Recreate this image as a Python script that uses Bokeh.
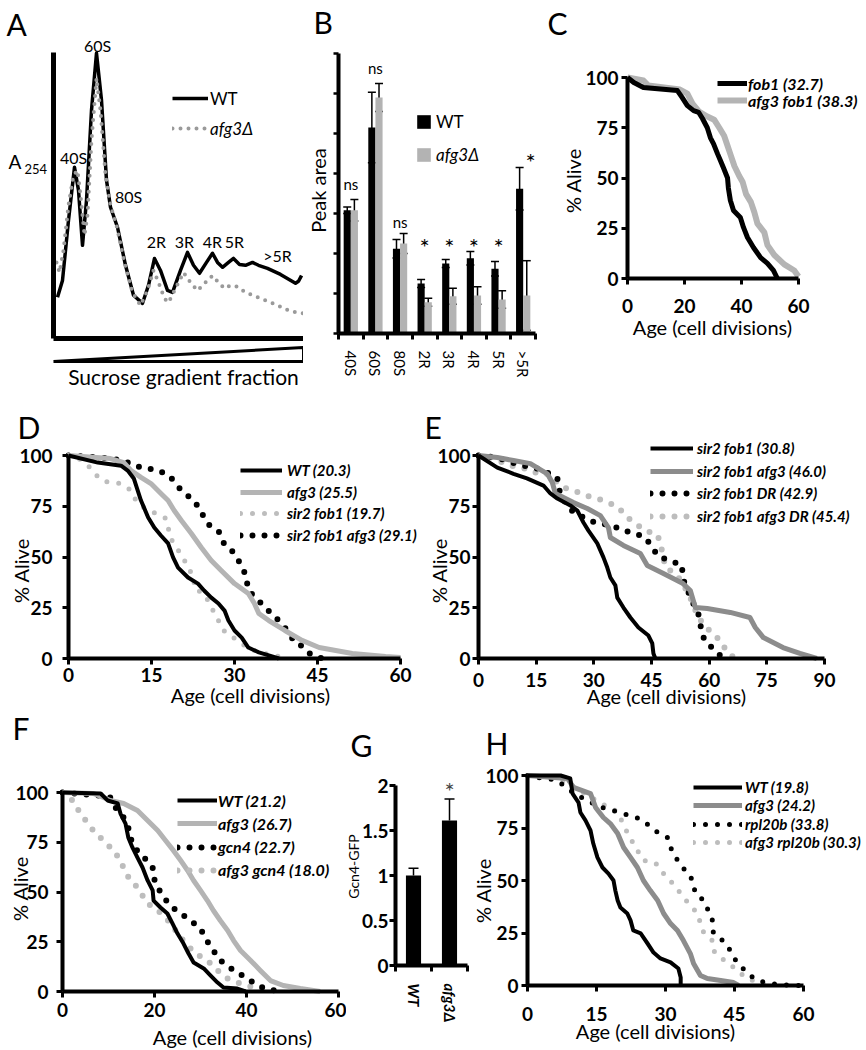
import math
from bokeh.plotting import figure
from bokeh.models import (Range1d, Legend, LegendItem, Label, LabelSet, Whisker, TeeHead,
                          ColumnDataSource, FixedTicker, NumeralTickFormatter)
from bokeh.core.properties import value, field
from bokeh.layouts import row, column
from bokeh.embed import file_html
from bokeh.resources import INLINE

FONT = "Lato"
BLACK = "#000000"
LGRAY = "#b4b4b4"
DGRAY = "#8c8c8c"
DOTGRAY = "#bdbdbd"

# ---------------- A: polysome profile ----------------
a_wt_x = [1.6, 3.6, 6.0, 8.4, 10.0, 11.6, 13.2, 15.2, 17.2, 19.2, 21.2, 22.8, 25.6, 28.8, 32.0, 35.6,
          38.0, 40.4, 42.8, 45.6, 47.6, 50.8, 53.6, 56.0, 58.4, 61.2, 63.6, 65.6, 67.6, 70.0, 72.0,
          74.4, 76.8, 79.6, 82.0, 85.6, 90.8, 96.8, 98.0, 99.2]
a_wt_y = [14.4, 20.3, 41.3, 59.9, 51.8, 32.6, 48.3, 79.8, 99.8, 83.3, 55.3, 45.9, 38.9, 25.6, 15.1, 12.3,
          18.6, 28.0, 23.8, 16.8, 16.1, 23.8, 30.1, 25.6, 22.8, 26.6, 29.8, 26.6, 24.9, 26.6, 28.0,
          25.9, 25.6, 26.6, 25.6, 24.5, 22.4, 19.3, 20.0, 22.0]
a_afg_x = [1.2, 2.4, 4.0, 6.0, 8.0, 9.6, 10.8, 12.4, 13.6, 15.2, 17.2, 18.8, 20.8, 22.8, 25.2, 28.4,
           31.6, 34.8, 37.6, 40.0, 42.0, 44.4, 46.0, 48.8, 52.0, 54.8, 57.6, 60.4, 63.6, 66.0, 68.4,
           70.8, 73.2, 76.8, 82.8, 88.8, 94.8, 100.0]
a_afg_y = [26.6, 23.1, 30.8, 46.6, 57.1, 58.8, 50.1, 36.1, 43.1, 69.3, 91.0, 79.8, 57.1, 46.6, 39.6, 26.6,
           16.1, 11.6, 16.8, 23.8, 19.6, 14.0, 12.6, 17.5, 23.1, 19.6, 16.8, 19.3, 22.0, 19.6, 17.5,
           18.6, 18.2, 16.1, 14.0, 11.9, 9.5, 8.8]
a_peaks = ["40S", "60S", "80S", "2R", "3R", "4R", "5R", ">5R"]
a_peak_x = [8.0, 17.6, 30.0, 41.2, 52.4, 63.6, 72.4, 89.6]
a_peak_y = [63.3, 102.4, 49.7, 33.9, 33.9, 33.9, 33.9, 29.0]

# ---------------- B: peak areas ----------------
b_categories = ["40S", "60S", "80S", "2R", "3R", "4R", "5R", ">5R"]
b_wt = [3.08, 5.15, 2.12, 1.25, 1.75, 1.88, 1.62, 3.62]
b_wt_err = [0.08, 0.88, 0.23, 0.10, 0.10, 0.17, 0.18, 0.53]
b_afg = [3.08, 5.90, 2.25, 0.78, 0.93, 0.95, 0.85, 0.95]
b_afg_err = [0.27, 0.35, 0.25, 0.10, 0.20, 0.22, 0.22, 0.87]
b_sig = ["ns", "ns", "ns", "*", "*", "*", "*", "*"]
b_sig_y = [3.58, 6.50, 2.65, 1.95, 1.95, 1.95, 1.95, 4.07]

# ---------------- C ----------------
c_fob1_x = [0, 2.2, 5.6, 17.5, 19.2, 21, 23.2, 25, 26.3, 28, 29.1, 30.2, 31.6, 32.6, 33.7, 35.1, 35.4,
            36.1, 37.2, 39.6, 40.7, 42.1, 44.2, 46.7, 49.1, 51.2, 52.6]
c_fob1_y = [100, 97.5, 95, 93.5, 90, 86, 83.5, 82.6, 79.6, 75, 70, 67, 62, 58.7, 55, 50, 45, 38.8, 33.8,
            30.3, 25.4, 20.4, 15.4, 10.4, 7.5, 4, 0]
c_afg_x = [0, 5.6, 7.3, 18.4, 21, 22.8, 25.1, 28, 30.4, 32.2, 33.9, 35.1, 36.3, 37.5, 39.2, 40.4, 41.6,
           43.3, 44.5, 45.6, 48, 49.1, 51.5, 55, 58.5, 60]
c_afg_y = [100, 98.5, 96, 94, 92, 87, 83, 80.6, 79, 75, 71, 66, 61, 56, 51, 48, 42, 38, 33, 27.3, 23,
           16.6, 11.7, 7, 4, 1]

# ---------------- D ----------------
d_wt_x = [0, 5.3, 9.5, 10.7, 11.8, 12.5, 13.1, 14.4, 15.5, 16.7, 18, 18.9, 19.8, 21.6, 23.4, 24.5, 25.8,
          27.1, 28.2, 28.9, 30, 31.3, 32.5, 34.4, 36.2, 38]
d_wt_y = [100, 96.5, 95, 92.6, 88.7, 82.8, 77.8, 69.5, 64.5, 60.6, 56.7, 49.8, 44.8, 39.9, 36.9, 33.5,
          30, 27.1, 23.6, 18.7, 13.8, 10.3, 5.4, 3, 1.5, 0]
d_afg_x = [0, 7.6, 10, 11.3, 13.1, 14.9, 16.7, 18, 19.1, 20.4, 22.2, 24, 25.8, 27.6, 30, 32.5, 33.6,
           34.4, 36.2, 39.1, 42.2, 45.3, 51.3, 57.3, 60]
d_afg_y = [100, 98.5, 96.5, 92.6, 89.2, 86.2, 81.3, 77.8, 72.9, 68, 61.6, 54.7, 48.3, 43.3, 36.9, 32,
           27.1, 22.2, 18.7, 13.8, 8.9, 5.4, 2.5, 1, 0.5]
d_sf_x = [0, 1.6, 3.1, 4.5, 5.5, 7.3, 9.5, 11.3, 12.2, 13.6, 15.8, 17.6, 18.5, 19.5, 20.7, 21.6, 22.7,
          22.7, 24.5, 25.5, 26.4, 27.3, 28, 30, 31.8, 33.6, 35.5, 37.3, 39.5]
d_sf_y = [100, 99, 96, 92.6, 88.7, 86.7, 86.2, 82.8, 77.8, 74.4, 71.4, 69, 59, 54.7, 49.8, 44.8, 39.9,
          34.5, 32, 27.1, 22.2, 17.7, 13.8, 9.9, 6.4, 3.9, 2.5, 1.5, 0]
d_sfa_x = [0, 5.8, 10, 11.8, 16.2, 18.2, 20.4, 22.2, 23.6, 24.5, 25.5, 27.3, 28, 29.5, 30.7, 31.6, 32.2,
           32.5, 34, 35.5, 37.1, 38.5, 39.8, 40.9, 42.7, 43.6, 45.8]
d_sfa_y = [100, 99, 97.5, 95, 92.6, 90.1, 82.8, 78.8, 74.4, 69.5, 65.5, 62.1, 57.1, 53.2, 48.3, 44.3,
           38.4, 33.5, 29.6, 25.1, 21.2, 17.2, 12.8, 7.9, 5.4, 2.5, 0]

# ---------------- E ----------------
e_sf_x = [0, 4.9, 9.1, 12.6, 16.9, 18.7, 20.5, 23.9, 25.7, 27.3, 28.6, 30.9, 32.5, 33.5, 34.3, 35.6,
          36.1, 37.7, 39.5, 41.6, 44.2, 45.2, 45.5, 46]
e_sf_y = [100, 94, 91, 88.7, 85.2, 81.3, 78.8, 75.4, 72.9, 67, 63, 56.7, 49.8, 44.8, 39.9, 36, 30,
          25.1, 20.2, 15.3, 11.3, 7.4, 2.5, 0]
e_sfa_x = [0, 4.9, 9.1, 13.5, 17.9, 19.2, 20, 24.7, 28.3, 31.7, 33.8, 34.3, 37.7, 42.1, 43.9, 48.1,
           53.2, 55.1, 56.4, 59.5, 65.5, 70.6, 72, 74.1, 79.2, 83.6, 88]
e_sfa_y = [100, 99, 97.5, 96, 91, 86.7, 81.3, 76.8, 73.9, 70.4, 64.5, 59.6, 55.7, 51.7, 45.8, 41.9,
           36.9, 33.5, 25.1, 24.6, 22.7, 20.2, 15.3, 10.3, 5.4, 2.5, 0]
e_dr_x = [0, 2.6, 5.7, 8.8, 11.7, 15.3, 17.9, 20.5, 20.8, 22.1, 23.4, 28.6, 31.7, 34.8, 37.7, 40.8,
          43.4, 45.2, 46.8, 49.9, 53, 53, 54.3, 55.1, 56.9, 57.7, 57.9, 59.2, 61.6, 63.6]
e_dr_y = [100, 99.5, 98.5, 96.5, 95, 93.6, 91.6, 89.2, 83.7, 78.8, 73.9, 68, 66.5, 65.5, 63, 61.6,
          59.6, 54.7, 50.2, 48.3, 45.8, 39.9, 34.5, 29.6, 23.6, 18.7, 12.8, 7.9, 3.9, 0]
e_adr_x = [0, 3.1, 8.3, 11.4, 14.3, 17.4, 22.1, 24.7, 27.8, 30.9, 33.8, 36.4, 38.7, 40.8, 43.4, 46.5,
           47.3, 48.1, 48.6, 51.2, 53.2, 54.5, 55.8, 56.9, 58.4, 60.8, 62.9, 64.7, 66.8]
e_adr_y = [100, 99, 95, 94, 91.6, 91.6, 84.2, 82.8, 80.3, 78.8, 76.8, 74.4, 69.5, 66.5, 63, 61.1,
           56.7, 49.8, 44.8, 41.9, 36.9, 32, 27.1, 21.2, 17.2, 12.3, 8.9, 3, 0]

# ---------------- F ----------------
f_wt_x = [0, 8.3, 9.8, 12, 12.6, 13.7, 14.3, 15.2, 16.3, 17.4, 18.5, 19.6, 19.8, 21.3, 22.8, 23.9, 25,
          26.3, 27.4, 28.5, 30.7, 32.2, 33.7, 35, 38, 39.8]
f_wt_y = [100, 99.5, 96, 94.5, 89.4, 84.4, 77.4, 72.4, 67.3, 62.3, 55.8, 50.8, 45.7, 42.2, 39.2, 34.2,
          29.1, 24.1, 19.1, 14.6, 11.6, 8, 4.5, 2, 1.5, 0]
f_afg_x = [0, 6.7, 8.9, 10.4, 13.3, 16.3, 18.5, 20.7, 22.4, 24.1, 25.7, 27.2, 28.5, 30, 31.5, 32.8,
           34.3, 35.9, 37.2, 38.7, 40.9, 43, 45.2, 48, 51.7, 56]
f_afg_y = [100, 99.5, 97.5, 96, 94.5, 91, 85.9, 80.9, 75.9, 70.9, 65.8, 60.8, 55.8, 50.8, 45.7, 40.7,
           35.7, 30.7, 25.6, 20.6, 15.6, 10.6, 5.5, 3, 1.5, 0]
f_gcn_x = [0, 2.4, 5.4, 7.8, 10.4, 11.5, 13.3, 14.3, 14.8, 15.9, 17, 18.5, 19.6, 19.8, 20.7, 22, 23.9,
           25.7, 27.8, 30, 31.1, 32.8, 34.3, 37.2, 40.2, 42.4, 44.6, 48]
f_gcn_y = [100, 99.5, 99, 98.5, 97.5, 92.5, 87.4, 82.4, 76.9, 71.9, 68.3, 65.8, 62.3, 57.3, 52.3, 47.2,
           42.2, 39.2, 35.7, 31.7, 26.6, 20.6, 15.6, 10.6, 6.5, 3, 1, 0]
f_agcn_x = [0, 2.2, 3.9, 6.7, 9.3, 11.1, 12.6, 13.7, 14.8, 16.3, 17.4, 18.5, 20.2, 22.4, 24.1, 25.7,
            27.2, 28.9, 31.5, 33.7, 35.9, 38.7, 42.4, 44.6]
f_agcn_y = [100, 96, 89.4, 80.9, 74.9, 70.9, 65.8, 59.8, 55.8, 52.3, 48.2, 44.2, 41.7, 37.2, 32.2,
            27.1, 23.1, 19.1, 15.6, 10.6, 6.5, 4, 1.5, 0]

# ---------------- G ----------------
g_labels = ["WT", "afg3\u0394"]
g_vals = [1.00, 1.61]
g_err = [0.08, 0.24]

# ---------------- H ----------------
h_wt_x = [0, 7.2, 9.3, 9.8, 11.1, 11.5, 12.6, 13.7, 14.3, 15.2, 16.3, 17.6, 18.7, 19.1, 19.6, 20.2,
          21.7, 22.4, 23, 24.6, 26.1, 27.4, 28.9, 31.1, 32.8, 33.3, 33.3]
h_wt_y = [100, 100, 98.6, 91.4, 87.1, 82.4, 78.6, 73.8, 67.6, 61, 56.2, 53.3, 50, 45.2, 40.5, 37.1,
          34.3, 31, 26.2, 24.8, 20, 15.7, 12.9, 11, 8.1, 3.8, 0]
h_afg_x = [0, 8.7, 10, 13.7, 14.8, 16.5, 18, 19.6, 20.9, 22.4, 23.9, 25.2, 26.7, 28.3, 29.6, 31.1,
           32.6, 33.9, 35.4, 36.1, 37.6, 39.1, 42, 44.8, 45.9]
h_afg_y = [100, 98.6, 94.3, 91.4, 84.8, 80, 77.1, 72.4, 65.7, 61, 56.2, 50, 45.2, 40.5, 34.3, 29.5,
           26.2, 21.4, 15.2, 10.5, 4.8, 3.3, 2.4, 1.4, 0]
h_rpl_x = [0, 2.2, 4.3, 6.5, 8.7, 10.9, 13, 15.9, 17.6, 20.2, 22.8, 25, 28.3, 30.4, 31.1, 32.2, 33.7,
           35.4, 36.1, 36.5, 38.3, 39.3, 40.2, 40.4, 42, 43.7, 44.8, 46.3, 47.8, 50, 52.4, 55, 57.6, 60]
h_rpl_y = [100, 99, 98.6, 97.6, 93.8, 90.5, 88.1, 84.8, 84.3, 81.9, 81, 78.6, 72.9, 70.5, 65.7, 61,
           56.2, 52.4, 47.6, 43.8, 40.5, 35.7, 31, 25.2, 22.4, 18.1, 13.3, 9.5, 5.7, 2.4, 1, 0.5, 0, 0]
h_arpl_x = [0, 2.8, 5.7, 8.7, 11.1, 13.3, 15.9, 18.5, 19.8, 20.9, 22.4, 23.9, 25.2, 27.8, 28.9, 30.7,
            32.2, 33.7, 35, 37, 37.6, 38.3, 40.2, 40.4, 42, 43.7, 45.7, 47.4, 50, 52.4]
h_arpl_y = [100, 99, 98.6, 96.7, 92.9, 90.5, 86.7, 84.3, 81.9, 76.2, 70, 64.3, 59.5, 58.6, 54.8, 51,
            46.7, 42.9, 39, 34.3, 29.5, 25.2, 21.4, 16.7, 13.3, 10.5, 7.1, 3.8, 1.4, 0]


# ---------------- layout helper ----------------
class Panel:
    """A figure whose frame fills its whole box; axes sit at data 0 (fixed_location)."""

    def __init__(self, left, top, width, height, xmap, ymap):
        self.left, self.top, self.width, self.height = left, top, width, height
        self.x0, xv_px, xv = xmap
        self.y0, yv_px, yv = ymap
        self.kx = (xv_px - self.x0) / xv
        self.ky = (self.y0 - yv_px) / yv
        p = figure(width=width, height=height,
                   x_range=Range1d(self.dx(left), self.dx(left + width)),
                   y_range=Range1d(self.dy(top + height), self.dy(top)),
                   output_backend="svg", toolbar_location=None,
                   min_border_left=0, min_border_right=0, min_border_top=0, min_border_bottom=0)
        p.title.visible = False
        p.outline_line_color = None
        p.xgrid.visible = False
        p.ygrid.visible = False
        p.border_fill_color = "white"
        p.background_fill_color = "white"
        for ax in (p.xaxis[0], p.yaxis[0]):
            ax.fixed_location = 0
            ax.axis_line_width = 4
            ax.axis_line_color = BLACK
            ax.major_tick_line_width = 3
            ax.major_tick_line_color = BLACK
            ax.major_tick_out = 6
            ax.major_tick_in = 0
            ax.minor_tick_line_color = None
            ax.major_label_text_font = FONT
            ax.major_label_text_font_style = "bold"
            ax.major_label_text_font_size = "19px"
            ax.major_label_text_color = BLACK
        self.p = p

    def dx(self, X):
        return (X - self.x0) / self.kx

    def dy(self, Y):
        return (self.y0 - Y) / self.ky

    def text(self, s, X, Y, size, style="normal", align="left", angle=0.0):
        # Y is the vertical centre of the text line
        self.p.add_layout(Label(x=self.dx(X), y=self.dy(Y), text=s, text_font=FONT,
                                text_font_size=size, text_font_style=style, text_align=align,
                                text_baseline="middle", angle=angle, text_color=BLACK))

    def letter(self, s, X, Y):
        self.text(s, X, Y, "30px")

    def legend(self, s, r, X, Yc, glyph_w, size, style, standoff, H=24):
        lg = Legend(items=[LegendItem(label=s, renderers=[r])],
                    location=(X - self.left, self.top + self.height - (Yc + H / 2.0)),
                    orientation="vertical",
                    glyph_width=glyph_w, glyph_height=H, label_height=H,
                    label_standoff=standoff, spacing=0, padding=0, margin=0,
                    border_line_color=None, background_fill_alpha=0.0,
                    label_text_font=FONT, label_text_font_size=size,
                    label_text_font_style=style, label_text_color=BLACK)
        self.p.add_layout(lg)


def survival(box, xmap, ymap, xmax, xticks, series, xstand, ystand, xlab, ylab, let, leg):
    P = Panel(*box, xmap, ymap)
    p = P.p
    ax, ay = p.xaxis[0], p.yaxis[0]
    ax.ticker = FixedTicker(ticks=xticks)
    ay.ticker = FixedTicker(ticks=[0, 25, 50, 75, 100])
    ax.bounds = (0, xmax)
    ay.bounds = (0, 100)
    ax.major_label_standoff = xstand
    ay.major_label_standoff = ystand
    rends = {}
    for name, xs, ys, color, w, dash in reversed(series):
        if dash:
            r = p.line(xs, ys, line_color=color, line_width=w, line_dash=dash, line_cap="round")
        else:
            r = p.line(xs, ys, line_color=color, line_width=w, line_join="round")
        rends[name] = r
    P.text("Age (cell divisions)", xlab[0], xlab[1], "20px", align="center")
    P.text("% Alive", ylab[0], ylab[1], "20px", align="center", angle=math.pi / 2)
    P.letter(*let)
    gx, yc0, dyc, gw, size, standoff = leg
    for i, s in enumerate(series):
        P.legend(s[0], rends[s[0]], gx, yc0 + i * dyc, gw, size, "bold italic", standoff)
    return p


# ---------------- panel A ----------------
A = Panel(0, 0, 303, 390, (53, 303, 100), (338, 52, 100))
pa = A.p
for ax in (pa.xaxis[0], pa.yaxis[0]):
    ax.ticker = FixedTicker(ticks=[])
    ax.axis_line_width = 5
    ax.major_tick_out = 0
    ax.bounds = (0, 100)
ra_wt = pa.line(a_wt_x, a_wt_y, line_color=BLACK, line_width=3.5, line_join="round")
ra_afg = pa.line(a_afg_x, a_afg_y, line_color="#9a9a9a", line_width=4, line_dash="0 8",
                 line_cap="round")
pa.add_layout(LabelSet(x="x", y="y", text="text",
                       source=ColumnDataSource(dict(x=a_peak_x, y=a_peak_y, text=a_peaks)),
                       text_align="center", text_baseline="middle", text_font=value(FONT),
                       text_font_size="16px", text_color=BLACK))
# sucrose gradient wedge (fractions run left to right over the x axis)
wedge_lo, wedge_hi = A.dy(361), A.dy(347)
pa.patch([0, 100, 100], [wedge_lo, wedge_hi, wedge_lo], fill_color="white", line_color=BLACK,
         line_width=3, line_join="miter")
A.text("Sucrose gradient fraction", 183, 376, "21px", align="center")
A.text("A", 8, 161, "19px")
A.text("254", 24, 168, "13px")
A.letter("A", 6, 23)
A.legend("WT", ra_wt, 172, 98, 36, "17px", "normal", 2)
A.legend("afg3\u0394", ra_afg, 172, 128, 36, "17px", "italic", 2)

# ---------------- panel B ----------------
nb = len(b_categories)
B = Panel(303, 0, 242, 390, (338, 535, nb), (333, 53, 7))
pb = B.p
b_centers = [i + 0.5 for i in range(nb)]
b_wt_x = [c - 0.145 for c in b_centers]
b_afg_x = [c + 0.145 for c in b_centers]
rb_wt = pb.vbar(x=b_wt_x, top=b_wt, width=0.29, fill_color=BLACK, line_color=None)
rb_afg = pb.vbar(x=b_afg_x, top=b_afg, width=0.29, fill_color="#b3b3b3", line_color=None)
b_src = ColumnDataSource(dict(
    base=b_wt_x + b_afg_x,
    upper=[v + e for v, e in zip(b_wt, b_wt_err)] + [v + e for v, e in zip(b_afg, b_afg_err)],
    lower=[v - e for v, e in zip(b_wt, b_wt_err)] + [v - e for v, e in zip(b_afg, b_afg_err)]))
pb.add_layout(Whisker(base="base", upper="upper", lower="lower", source=b_src,
                      line_color=BLACK, line_width=1.5,
                      upper_head=TeeHead(size=8, line_width=1.5, line_color=BLACK),
                      lower_head=TeeHead(size=8, line_width=1.5, line_color=BLACK)))
sig_x = [c + (0.3 if i == nb - 1 else 0) for i, c in enumerate(b_centers)]
sig_size = ["15px" if s == "ns" else "24px" for s in b_sig]
pb.add_layout(LabelSet(x="x", y="y", text="text",
                       source=ColumnDataSource(dict(x=sig_x, y=b_sig_y, text=b_sig, size=sig_size)),
                       text_align="center", text_baseline="alphabetic", text_font=value(FONT),
                       text_font_size=field("size"), text_color=BLACK))
bx, by = pb.xaxis[0], pb.yaxis[0]
bx.bounds = (0, nb)
bx.ticker = FixedTicker(ticks=b_centers, minor_ticks=list(range(nb + 1)))
bx.major_label_overrides = {c: lab for c, lab in zip(b_centers, b_categories)}
bx.major_label_orientation = "vertical"
bx.major_tick_line_color = None
bx.major_tick_out = 0
bx.minor_tick_line_color = BLACK
bx.minor_tick_line_width = 3
bx.minor_tick_out = 6
bx.minor_tick_in = 0
bx.major_label_standoff = 11
bx.major_label_text_font_style = "normal"
bx.major_label_text_font_size = "15px"
by.bounds = (0, 7)
by.ticker = FixedTicker(ticks=[], minor_ticks=list(range(8)))
by.minor_tick_line_color = BLACK
by.minor_tick_line_width = 2.5
by.minor_tick_out = 5
by.minor_tick_in = 0
B.text("Peak area", 317, 190, "20px", align="center", angle=math.pi / 2)
B.letter("B", 313, 21)
B.legend("WT", rb_wt, 415, 123.5, 17, "17px", "normal", 4, H=17)
B.legend("afg3\u0394", rb_afg, 415, 156.5, 17, "17px", "italic", 4, H=17)

# ---------------- panel C ----------------
pc = survival((545, 0, 321, 390), (627, 798, 60), (278, 77, 100), 60, [0, 20, 40, 60],
              [("fob1 (32.7)", c_fob1_x, c_fob1_y, BLACK, 5, None),
               ("afg3 fob1 (38.3)", c_afg_x, c_afg_y, LGRAY, 6, None)],
              14, 3, (712, 326), (572, 180), ("C", 547, 22), (717, 83, 17, 30, "16px", 1))

# ---------------- panel D ----------------
pd_ = survival((0, 390, 423, 318), (68, 400, 60), (658, 455, 100), 60, [0, 15, 30, 45, 60],
               [("WT (20.3)", d_wt_x, d_wt_y, BLACK, 4, None),
                ("afg3 (25.5)", d_afg_x, d_afg_y, LGRAY, 5, None),
                ("sir2 fob1 (19.7)", d_sf_x, d_sf_y, DOTGRAY, 5, "0 12"),
                ("sir2 fob1 afg3 (29.1)", d_sfa_x, d_sfa_y, BLACK, 6, "0 12")],
               3, 10, (250, 694), (20, 570), ("D", 17, 426), (240, 470, 21.7, 42, "15px", 5))

# ---------------- panel E ----------------
pe = survival((423, 390, 443, 318), (478, 824, 90), (658, 455, 100), 90,
              [0, 15, 30, 45, 60, 75, 90],
              [("sir2 fob1 (30.8)", e_sf_x, e_sf_y, BLACK, 4, None),
               ("sir2 fob1 afg3 (46.0)", e_sfa_x, e_sfa_y, DGRAY, 5, None),
               ("sir2 fob1 DR (42.9)", e_dr_x, e_dr_y, BLACK, 6, "0 12"),
               ("sir2 fob1 afg3 DR (45.4)", e_adr_x, e_adr_y, DOTGRAY, 6, "0 12")],
              8, 2, (666, 695), (438, 570), ("E", 424, 426), (650, 448, 22.7, 43, "15px", 4))

# ---------------- panel F ----------------
pf = survival((0, 708, 346, 340), (62, 338, 60), (991, 792, 100), 60, [0, 20, 40, 60],
              [("WT (21.2)", f_wt_x, f_wt_y, BLACK, 4, None),
               ("afg3 (26.7)", f_afg_x, f_afg_y, LGRAY, 5, None),
               ("gcn4 (22.7)", f_gcn_x, f_gcn_y, BLACK, 6, "0 12"),
               ("afg3 gcn4 (18.0)", f_agcn_x, f_agcn_y, DOTGRAY, 6, "0 12")],
              5, 8, (232, 1036), (19, 888), ("F", 12, 727), (177, 800, 23.3, 40, "16px", 1))

# ---------------- panel G ----------------
G = Panel(346, 708, 124, 340, (395, 467, 2), (965, 785, 2))
pg = G.p
g_x = [0.5, 1.5]
pg.vbar(x=g_x, top=g_vals, width=0.42, fill_color=BLACK, line_color=None)
pg.add_layout(Whisker(base="base", upper="upper", lower="lower",
                      source=ColumnDataSource(dict(base=g_x, lower=g_vals,
                                                   upper=[v + e for v, e in zip(g_vals, g_err)])),
                      line_color=BLACK, line_width=1.5,
                      upper_head=TeeHead(size=10, line_width=1.5, line_color=BLACK),
                      lower_head=None))
pg.add_layout(Label(x=g_x[1], y=g_vals[1] + g_err[1] + 0.09, text="*", text_font=FONT,
                    text_font_size="24px", text_align="center", text_baseline="middle"))
gx, gy = pg.xaxis[0], pg.yaxis[0]
gx.bounds = (0, 2)
gx.ticker = FixedTicker(ticks=g_x, minor_ticks=[0, 1, 2])
gx.major_label_overrides = {x: lab for x, lab in zip(g_x, g_labels)}
gx.major_label_orientation = "vertical"
gx.major_tick_line_color = None
gx.major_tick_out = 0
gx.minor_tick_line_color = BLACK
gx.minor_tick_line_width = 3
gx.minor_tick_out = 6
gx.minor_tick_in = 0
gx.major_label_standoff = 12
gx.major_label_text_font_size = "15px"
gx.major_label_text_font_style = "bold italic"
gy.bounds = (0, 2)
gy.ticker = FixedTicker(ticks=[0, 0.5, 1, 1.5, 2])
gy.formatter = NumeralTickFormatter(format="0.[0]")
gy.major_label_standoff = 1
G.text("Gcn4-GFP", 353, 866, "14px", align="center", angle=math.pi / 2)
G.letter("G", 350, 744)

# ---------------- panel H ----------------
ph = survival((470, 708, 396, 340), (527, 803, 60), (985, 775, 100), 60, [0, 15, 30, 45, 60],
              [("WT (19.8)", h_wt_x, h_wt_y, BLACK, 4, None),
               ("afg3 (24.2)", h_afg_x, h_afg_y, DGRAY, 5, None),
               ("rpl20b (33.8)", h_rpl_x, h_rpl_y, BLACK, 5, "0 12"),
               ("afg3 rpl20b (30.3)", h_arpl_x, h_arpl_y, DOTGRAY, 5, "0 12")],
              15, 3, (655, 1030), (482, 890), ("H", 485, 742), (693, 787, 18.3, 49, "15px", 3))

layout = column(
    row(pa, pb, pc),
    row(pd_, pe),
    row(pf, pg, ph),
)

open("out.html", "w").write(file_html(layout, INLINE, "Figure"))
